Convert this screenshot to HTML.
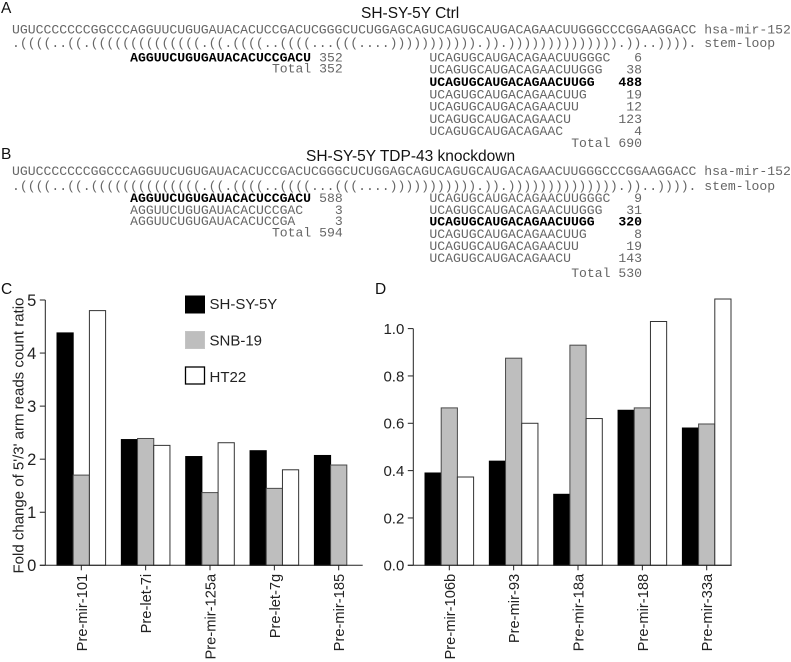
<!DOCTYPE html>
<html lang="en">
<head>
<meta charset="utf-8">
<title>hsa-mir-152 arm reads and fold change charts</title>
<style>
html,body{margin:0;padding:0;background:#fff;}
svg{display:block;}
.m{font-family:"Liberation Mono",monospace;font-size:13.125px;fill:#666;white-space:pre;}
.b{font-weight:bold;fill:#000;}
.s{font-family:"Liberation Sans",Arial,sans-serif;font-size:15.5px;fill:#111;}
.a{font-family:"Liberation Sans",Arial,sans-serif;font-size:15px;fill:#222;}
.l{font-size:14.7px;}
</style>
</head>
<body>
<svg id="fig" xmlns="http://www.w3.org/2000/svg" width="791" height="662" viewBox="0 0 791 662">
<rect width="791" height="662" fill="#fff"/>

<g>
<text class="s" x="1" y="13">A</text>
<text class="s" x="361" y="18">SH-SY-5Y Ctrl</text>
<text class="m" x="12" y="33.5">UGUCCCCCCCGGCCCAGGUUCUGUGAUACACUCCGACUCGGGCUCUGGAGCAGUCAGUGCAUGACAGAACUUGGGCCCGGAAGGACC hsa-mir-152</text>
<text class="m" x="12" y="47">.((((..((.((((((((((((((.((.((((..((((...(((....))))))))))).)).)))))))))))))).))..)))). stem-loop</text>
<text class="m b" x="130.1" y="61.5">AGGUUCUGUGAUACACUCCGACU</text>
<text class="m" x="342.75" y="61.5" text-anchor="end">352</text>
<text class="m" x="342.75" y="72.5" text-anchor="end">Total 352</text>
<text class="m" x="429.4" y="61.5">UCAGUGCAUGACAGAACUUGGGC</text>
<text class="m" x="642" y="61.5" text-anchor="end">6</text>
<text class="m" x="429.4" y="73.5">UCAGUGCAUGACAGAACUUGGG</text>
<text class="m" x="642" y="73.5" text-anchor="end">38</text>
<text class="m b" x="429.4" y="86">UCAGUGCAUGACAGAACUUGG</text>
<text class="m b" x="642" y="86" text-anchor="end">488</text>
<text class="m" x="429.4" y="98.5">UCAGUGCAUGACAGAACUUG</text>
<text class="m" x="642" y="98.5" text-anchor="end">19</text>
<text class="m" x="429.4" y="110.5">UCAGUGCAUGACAGAACUU</text>
<text class="m" x="642" y="110.5" text-anchor="end">12</text>
<text class="m" x="429.4" y="123">UCAGUGCAUGACAGAACU</text>
<text class="m" x="642" y="123" text-anchor="end">123</text>
<text class="m" x="429.4" y="135">UCAGUGCAUGACAGAAC</text>
<text class="m" x="642" y="135" text-anchor="end">4</text>
<text class="m" x="642" y="147" text-anchor="end">Total 690</text>
</g>

<g>
<text class="s" x="1" y="159">B</text>
<text class="s" x="306" y="161">SH-SY-5Y TDP-43 knockdown</text>
<text class="m" x="12" y="175">UGUCCCCCCCGGCCCAGGUUCUGUGAUACACUCCGACUCGGGCUCUGGAGCAGUCAGUGCAUGACAGAACUUGGGCCCGGAAGGACC hsa-mir-152</text>
<text class="m" x="12" y="190">.((((..((.((((((((((((((.((.((((..((((...(((....))))))))))).)).)))))))))))))).))..)))). stem-loop</text>
<text class="m b" x="130.1" y="202">AGGUUCUGUGAUACACUCCGACU</text>
<text class="m" x="342.75" y="202" text-anchor="end">588</text>
<text class="m" x="130.1" y="214">AGGUUCUGUGAUACACUCCGAC</text>
<text class="m" x="342.75" y="214" text-anchor="end">3</text>
<text class="m" x="130.1" y="225">AGGUUCUGUGAUACACUCCGA</text>
<text class="m" x="342.75" y="225" text-anchor="end">3</text>
<text class="m" x="342.75" y="236.5" text-anchor="end">Total 594</text>
<text class="m" x="429.4" y="202">UCAGUGCAUGACAGAACUUGGGC</text>
<text class="m" x="642" y="202" text-anchor="end">9</text>
<text class="m" x="429.4" y="214">UCAGUGCAUGACAGAACUUGGG</text>
<text class="m" x="642" y="214" text-anchor="end">31</text>
<text class="m b" x="429.4" y="225.5">UCAGUGCAUGACAGAACUUGG</text>
<text class="m b" x="642" y="225.5" text-anchor="end">320</text>
<text class="m" x="429.4" y="238">UCAGUGCAUGACAGAACUUG</text>
<text class="m" x="642" y="238" text-anchor="end">8</text>
<text class="m" x="429.4" y="250">UCAGUGCAUGACAGAACUU</text>
<text class="m" x="642" y="250" text-anchor="end">19</text>
<text class="m" x="429.4" y="262">UCAGUGCAUGACAGAACU</text>
<text class="m" x="642" y="262" text-anchor="end">143</text>
<text class="m" x="642" y="277" text-anchor="end">Total 530</text>
</g>

<text class="s" x="1" y="294">C</text>
<text class="s" x="375" y="294">D</text>

<g>
<g>
<rect x="185.5" y="296" width="19" height="17" fill="#000" stroke="#000"/>
<text class="a" x="209.5" y="309">SH-SY-5Y</text>
</g>
<g>
<rect x="185.5" y="331.5" width="19" height="17" fill="#bebebe" stroke="#c4c4c4"/>
<text class="a" x="209.5" y="345.5">SNB-19</text>
</g>
<g>
<rect x="185.5" y="367" width="19" height="17" fill="#fff" stroke="#000" stroke-width="1.3"/>
<text class="a" x="209.5" y="382">HT22</text>
</g>
</g>

<text class="a" transform="translate(23.5,573.5) rotate(-90)">Fold change of 5'/3' arm reads count ratio</text>
<g id="chart-c"></g>
<g id="chart-d"></g>
</svg>

<script>
const cCategories = ["Pre-mir-101", "Pre-let-7i", "Pre-mir-125a", "Pre-let-7g", "Pre-mir-185"];
const cShSy5y = [4.38, 2.37, 2.05, 2.16, 2.07];
const cSnb19 = [1.70, 2.39, 1.37, 1.45, 1.89];
const cHt22 = [4.80, 2.26, 2.31, 1.80, null];
const cTicks = [0, 1, 2, 3, 4, 5];
const cTickLabels = ["0", "1", "2", "3", "4", "5"];

const dCategories = ["Pre-mir-106b", "Pre-mir-93", "Pre-mir-18a", "Pre-mir-188", "Pre-mir-33a"];
const dShSy5y = [0.39, 0.44, 0.30, 0.655, 0.58];
const dSnb19 = [0.665, 0.875, 0.93, 0.665, 0.597];
const dHt22 = [0.373, 0.60, 0.62, 1.03, 1.125];
const dTicks = [0, 0.2, 0.4, 0.6, 0.8, 1.0];
const dTickLabels = ["0.0", "0.2", "0.4", "0.6", "0.8", "1.0"];

const SVGNS = "http://www.w3.org/2000/svg";

function make(tag, parent, attrs) {
  const el = document.createElementNS(SVGNS, tag);
  for (const k in attrs) el.setAttribute(k, attrs[k]);
  parent.appendChild(el);
  return el;
}

function drawChart(o) {
  const root = document.getElementById(o.id);
  const yScale = function (v) { return o.y0 - v * o.unit; };
  const xScale = function (i) { return o.firstBar + i * o.groupStep; };
  const series = [
    { key: "sh-sy-5y", values: o.s1, fill: "#000", stroke: "#000" },
    { key: "snb-19", values: o.s2, fill: "#bebebe", stroke: "#4a4a4a" },
    { key: "ht22", values: o.s3, fill: "#fff", stroke: "#333" }
  ];

  series.forEach(function (s, si) {
    s.values.forEach(function (v, i) {
      if (v === null) return;
      const bar = make("rect", root, {
        x: xScale(i) + si * o.barW,
        y: yScale(v),
        width: o.barW,
        height: o.y0 - yScale(v),
        fill: s.fill,
        stroke: s.stroke,
        "stroke-width": 1
      });
      
      
    });
  });

  const yAxis = make("line", root, {
    x1: o.axisX, x2: o.axisX, y1: yScale(o.ticks[o.ticks.length - 1]), y2: o.y0,
    stroke: "#222", "stroke-width": 1
  });
  
  

  const xAxis = make("line", root, {
    x1: o.axisX - 5.5, x2: o.axisEnd, y1: o.y0, y2: o.y0,
    stroke: "#222", "stroke-width": 1
  });
  
  

  o.ticks.forEach(function (t, i) {
    const tick = make("line", root, {
      x1: o.axisX - 5.5, x2: o.axisX, y1: yScale(t), y2: yScale(t),
      stroke: "#222", "stroke-width": 1
    });
    
    

    const label = make("text", root, {
      x: o.axisX - 9, y: yScale(t) + o.tickFont * 0.36, "text-anchor": "end", "class": "a",
      style: "font-size:" + o.tickFont + "px"
    });
    label.textContent = o.tickLabels[i];
    
    
  });

  o.cats.forEach(function (c, i) {
    const cx = xScale(i) + o.barW * 1.5;
    const tick = make("line", root, {
      x1: cx, x2: cx, y1: o.y0, y2: o.y0 + 5,
      stroke: "#222", "stroke-width": 1
    });
    
    

    const label = make("text", root, {
      transform: "translate(" + (cx + 5.5) + "," + (o.y0 + 8.5) + ") rotate(-90)",
      "text-anchor": "end",
      "class": "a l"
    });
    label.textContent = c;
    
    
  });
}

drawChart({
  id: "chart-c", cats: cCategories, s1: cShSy5y, s2: cSnb19, s3: cHt22,
  ticks: cTicks, tickLabels: cTickLabels, tickFont: 16.5,
  y0: 565.3, unit: 53.06, axisX: 45.3, axisEnd: 362.7,
  firstBar: 57, groupStep: 64.35, barW: 16.2
});

drawChart({
  id: "chart-d", cats: dCategories, s1: dShSy5y, s2: dSnb19, s3: dHt22,
  ticks: dTicks, tickLabels: dTickLabels, tickFont: 15,
  y0: 565.3, unit: 236.7, axisX: 413.3, axisEnd: 731.7,
  firstBar: 425, groupStep: 64.35, barW: 16.2
});
</script>
</body>
</html>
